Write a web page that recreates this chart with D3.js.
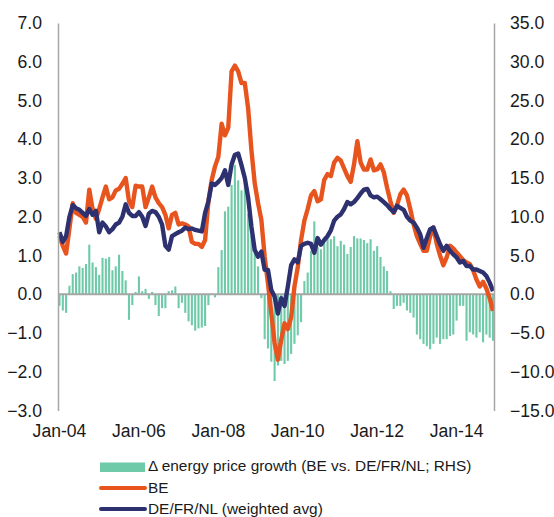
<!DOCTYPE html>
<html><head><meta charset="utf-8">
<script src="https://cdn.jsdelivr.net/npm/d3@7/dist/d3.min.js"></script>
<style>body{margin:0;background:#fff}svg{display:block}</style>
</head><body>
<svg id="c" width="554" height="517"></svg>
<script>
// Monthly, Jan-04 .. Dec-14
const startYear = 2004, nMonths = 132;
const xTickLabels = ["Jan-04","Jan-06","Jan-08","Jan-10","Jan-12","Jan-14"];
const leftTicks = [-3,-2,-1,0,1,2,3,4,5,6,7];
const rightTicks = [-15,-10,-5,0,5,10,15,20,25,30,35];
const legendLabels = ["Δ energy price growth (BE vs. DE/FR/NL; RHS)","BE","DE/FR/NL (weighted avg)"];

// Δ energy price growth (RHS)
const diff = [
 -1.5,-2.1,-2.4,1.1,2.6,2.8,3.6,3.4,3.9,6.4,4.1,3.5,
 2.5,4.7,4.6,4.8,3.1,3.6,5.1,3.0,1.8,-3.3,-1.4,0.3,
 2.3,0.4,0.7,-0.6,0.3,-1.4,-2.8,-1.8,-1.8,0.4,0.5,1.0,
 -1.8,-1.1,-2.4,-3.5,-4.0,-4.7,-4.4,-4.3,-4.1,-1.4,0.0,-0.4,
 3.5,5.7,10.7,11.3,14.1,16.7,14.7,13.4,14.3,10.4,7.6,5.3,
 3.6,-0.5,-5.8,-7.0,-8.7,-11.2,-9.2,-8.6,-9.0,-8.6,-7.7,-6.4,
 -5.3,-3.6,1.7,2.8,5.6,9.4,6.1,5.8,7.0,7.9,7.1,7.5,
 6.2,6.9,6.4,5.2,6.1,7.5,7.2,7.2,7.0,6.6,7.1,5.6,
 6.2,4.8,3.6,3.0,0.4,-1.9,-1.5,-1.5,-1.1,-2.1,-2.4,-3.0,
 -5.2,-5.8,-6.4,-6.7,-7.1,-6.4,-5.6,-6.4,-5.8,-5.8,-5.4,-5.2,
 -3.4,-1.5,-1.5,-6.0,-4.9,-5.2,-5.6,-4.9,-6.2,-5.2,-5.6,-6.0
];
// BE
const be = [
 1.5,1.25,1.05,1.7,2.35,2.1,2.05,2.0,1.85,2.7,2.2,1.95,
 2.2,2.5,2.78,2.45,2.5,2.68,2.72,2.85,3.0,2.4,2.25,2.8,
 2.78,2.78,2.25,2.5,2.78,2.5,2.35,2.25,2.05,1.7,2.05,2.1,
 1.8,1.83,1.8,1.75,1.35,1.3,1.3,1.22,1.4,2.4,2.95,3.3,
 3.55,4.4,4.1,4.3,5.75,5.9,5.75,5.45,5.45,4.8,3.72,2.86,
 2.35,1.92,0.97,0.28,-0.49,-1.26,-1.69,-1.18,-0.75,-0.9,-0.6,0.2,
 0.7,1.4,1.9,2.2,2.55,2.66,2.4,2.45,2.95,3.1,3.05,3.4,
 3.52,3.45,3.25,3.05,2.9,3.35,3.95,3.4,3.22,3.22,3.48,3.2,
 3.22,3.35,3.15,2.75,2.4,2.1,2.3,2.58,2.7,2.55,2.2,1.8,
 1.5,1.3,1.12,1.12,1.5,1.72,1.3,1.0,0.75,0.95,1.25,1.18,
 1.08,0.98,0.88,0.82,0.78,0.62,0.38,0.2,0.32,0.15,-0.1,-0.43
];
// DE/FR/NL (weighted avg)
const avg = [
 1.6,1.35,1.5,2.0,2.3,2.22,2.18,2.1,2.02,2.2,2.05,2.15,
 1.6,1.85,1.75,1.6,1.68,1.8,1.85,2.0,2.32,2.1,2.02,2.02,
 2.12,2.0,1.76,2.08,2.15,2.12,2.0,1.8,1.25,1.15,1.5,1.55,
 1.6,1.64,1.72,1.68,1.7,1.66,1.64,1.62,2.1,2.4,2.86,2.82,
 2.9,3.0,3.2,2.82,3.35,3.6,3.63,3.33,3.0,2.5,1.74,1.14,
 0.97,1.1,0.63,0.63,0.11,-0.06,-0.5,-0.1,-0.3,0.2,0.75,0.9,
 0.82,1.25,1.3,1.33,1.3,1.07,1.45,1.28,1.4,1.5,1.65,1.9,
 2.0,2.06,2.2,2.38,2.32,2.38,2.48,2.6,2.7,2.72,2.55,2.5,
 2.52,2.45,2.38,2.3,2.2,2.12,2.28,2.23,2.18,2.0,1.9,1.85,
 1.72,1.55,1.2,1.45,1.68,1.72,1.5,1.29,1.12,1.25,1.12,1.03,
 0.95,0.82,0.86,0.73,0.73,0.64,0.64,0.6,0.56,0.47,0.3,0.08
];

const C = {green:"#6fcaa9", orange:"#e8541e", navy:"#2e3170", axis:"#a6a6a6", text:"#1a1a1a"};
const font = "'Liberation Sans', Arial, sans-serif";
const svg = d3.select("#c");

const x = d3.scaleLinear().domain([0, nMonths-1]).range([59.5, 493]);
const yL = d3.scaleLinear().domain([-3, 7]).range([410.5, 23]);
const yR = d3.scaleLinear().domain([-15, 35]).range([410.5, 23]);

// bars
svg.append("g").selectAll("rect").data(diff).join("rect")
  .attr("x", (d,i) => x(i) - 1.05)
  .attr("width", 2.1)
  .attr("y", d => yR(Math.max(0,d)))
  .attr("height", d => Math.abs(yR(d) - yR(0)))
  .attr("fill", C.green);

// zero line
svg.append("line").attr("x1", 58).attr("x2", 494)
  .attr("y1", yL(0)).attr("y2", yL(0))
  .attr("stroke", C.axis).attr("stroke-width", 2);

// lines
const line = d3.line().x((d,i) => x(i)).y(d => yL(d)).curve(d3.curveLinear);
svg.append("path").datum(be).attr("d", line).attr("fill","none")
  .attr("stroke", C.orange).attr("stroke-width", 4.4).attr("stroke-linejoin","round");
svg.append("path").datum(avg).attr("d", line).attr("fill","none")
  .attr("stroke", C.navy).attr("stroke-width", 4.4).attr("stroke-linejoin","round");

// left axis
const gL = svg.append("g").attr("transform","translate(58,0)")
  .call(d3.axisLeft(yL).tickValues(leftTicks).tickFormat(d3.format(".1f")).tickSize(0).tickPadding(16));
gL.select(".domain").attr("stroke", C.axis).attr("stroke-width", 1.5);
gL.selectAll("text").attr("font-family", font).attr("font-size", 17.6).attr("fill", C.text);

// right axis
const gR = svg.append("g").attr("transform","translate(494,0)")
  .call(d3.axisRight(yR).tickValues(rightTicks).tickFormat(d3.format(".1f")).tickSize(0).tickPadding(16));
gR.select(".domain").attr("stroke", C.axis).attr("stroke-width", 1.5);
gR.selectAll("text").attr("font-family", font).attr("font-size", 17.6).attr("fill", C.text);

// x labels
svg.append("g").selectAll("text").data(xTickLabels).join("text")
  .attr("x", (d,i) => x(i*24))
  .attr("y", 436.5)
  .attr("text-anchor","middle")
  .attr("font-family", font).attr("font-size", 17.6).attr("fill", C.text)
  .text(d => d);

// legend
const lg = svg.append("g");
const rowsY = [466, 488, 509];
lg.append("rect").attr("x",100).attr("y",462.5).attr("width",45).attr("height",9.5).attr("fill",C.green);
lg.append("line").attr("x1",101).attr("x2",145).attr("y1",rowsY[1]).attr("y2",rowsY[1])
  .attr("stroke",C.orange).attr("stroke-width",4).attr("stroke-linecap","round");
lg.append("line").attr("x1",101).attr("x2",145).attr("y1",rowsY[2]).attr("y2",rowsY[2])
  .attr("stroke",C.navy).attr("stroke-width",4).attr("stroke-linecap","round");
lg.selectAll("text").data(legendLabels).join("text")
  .attr("x",148).attr("y",(d,i)=>[471,493,514][i])
  .attr("font-family", font).attr("font-size", 15.4).attr("fill", C.text)
  .text(d=>d);
</script>
</body></html>
